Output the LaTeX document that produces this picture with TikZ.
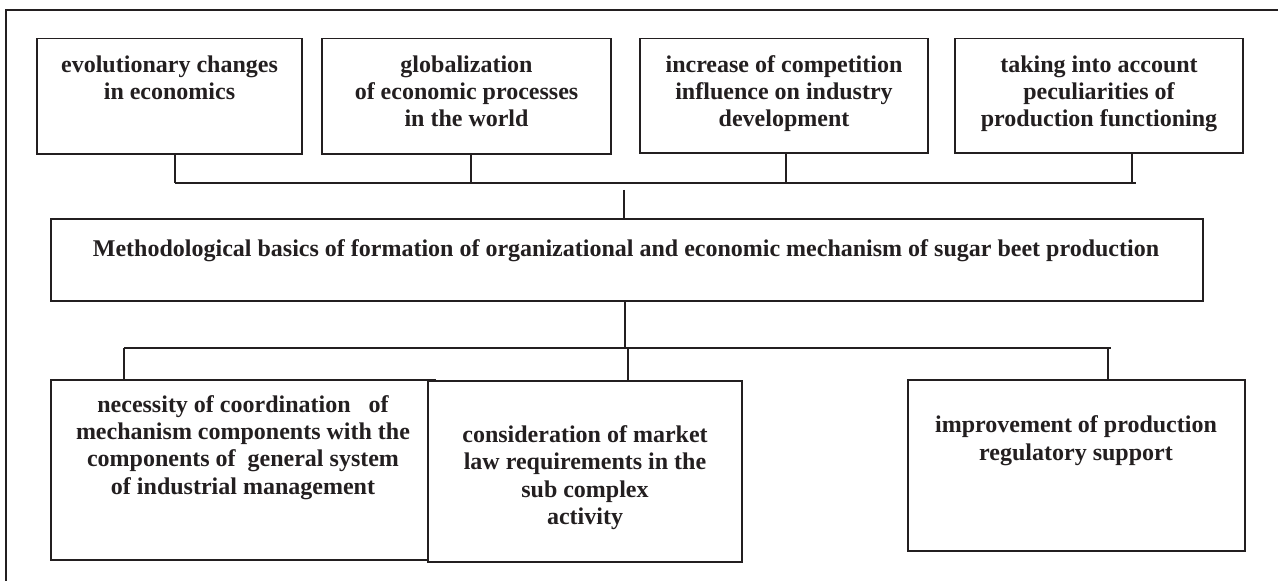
\documentclass[tikz,border=0pt]{standalone}
\usepackage{fontspec}
\setmainfont{Liberation Serif}
\usetikzlibrary{fit}
\definecolor{ink}{RGB}{35,31,32}
\begin{document}
\begin{tikzpicture}[x=0.75pt,y=-0.75pt,
  boxshape/.style={draw=ink,line width=1.0pt,inner sep=0pt,fill=white},
  label/.style={font=\fontsize{18}{20.5}\selectfont\bfseries,text=ink,align=center,inner sep=0pt,anchor=base},
  link/.style={draw=ink,line width=0.8pt}]
\useasboundingbox (0,0) rectangle (1278,581);
% outer frame (runs off the page at right and bottom)
\draw[ink,line width=1.0pt] (6,581) -- (6,10) -- (1278,10);

% top row
\node[boxshape,fit={(37,38.5) (302,154)}] (b1) {};
\node[boxshape,fit={(322,38.5) (611,154)}] (b2) {};
\node[boxshape,fit={(640,38.5) (928,153)}] (b3) {};
\node[boxshape,fit={(955,38.5) (1243,153)}] (b4) {};
% anchor=base is the baseline of the last line
\node[label] (t1) at (169.5,99.5) {evolutionary changes\\in economics};
\node[label] (t2) at (466.5,127) {globalization\\of economic processes\\in the world};
\node[label] (t3) at (784,127) {increase of competition\\influence on industry\\development};
\node[label] (t4) at (1099,127) {taking into account\\peculiarities of\\production functioning};

% central
\node[boxshape,fit={(51,219) (1203,301)}] (mid) {};
\node[label] (tm) at (626,257) {Methodological basics of formation of organizational and economic mechanism of sugar beet production};

% bottom row
\node[boxshape,fit={(51,380) (435,560)}] (b5) {};
\node[boxshape,fit={(428,381) (742,562)}] (b6) {};
\node[boxshape,fit={(908,380) (1245,551)}] (b7) {};
\node[label] (t5) at (243,494) {necessity of coordination~~~of\\mechanism components with the\\components of~~general system\\of industrial management};
\node[label] (t6) at (585,524.5) {consideration of market\\law requirements in the\\sub complex\\activity};
\node[label] (t7) at (1076,460) {improvement of production\\regulatory support};

% junction coordinates
\coordinate (j1) at (175,183);
\coordinate (j2) at (471,183);
\coordinate (j3) at (786,183);
\coordinate (j4) at (1132,183);
\coordinate (jend) at (1136,183);
\coordinate (m1) at (624,190);
\coordinate (m2) at (625,348);
\coordinate (k5) at (124,348);
\coordinate (k6) at (628,348);
\coordinate (k7) at (1108,348);
\coordinate (kend) at (1111,348);

% upper connectors
\draw[link] (j1 |- b1.south) -- (j1);
\draw[link] (j2 |- b2.south) -- (j2);
\draw[link] (j3 |- b3.south) -- (j3);
\draw[link] (j4 |- b4.south) -- (j4);
\draw[link] (j1) -- (jend);
\draw[link] (m1) -- (m1 |- mid.north);

% lower connectors
\draw[link] (m2 |- mid.south) -- (m2);
\draw[link] (k5) -- (kend);
\draw[link] (k5) -- (k5 |- b5.north);
\draw[link] (k6) -- (k6 |- b6.north);
\draw[link] (k7) -- (k7 |- b7.north);
\end{tikzpicture}
\end{document}
